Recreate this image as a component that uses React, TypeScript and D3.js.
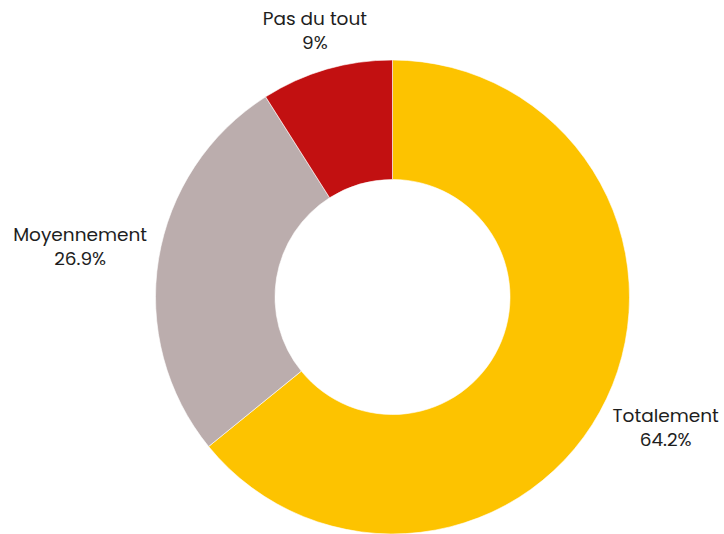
import React, { useEffect, useRef } from "react";
import * as d3 from "d3";

const categories = ["Totalement", "Moyennement", "Pas du tout"];
const values = [64.2, 26.9, 9];
const valueLabels = ["64.2%", "26.9%", "9%"];
const colors = ["#FDC300", "#BBADAD", "#C21011"];

const W = 724;
const H = 534;

export default function App() {
  const ref = useRef<SVGSVGElement>(null);
  useEffect(() => {
    const svg = d3.select(ref.current);
    svg.selectAll("*").remove();
    const cx = 392.5;
    const cy = 297;
    const outerR = 237;
    const innerR = 117.5;
    const data = categories.map((c, i) => ({ name: c, value: values[i], label: valueLabels[i], color: colors[i] }));
    const pie = d3.pie<any>().sort(null).value((d: any) => d.value);
    const arcs = pie(data);
    const arc = d3.arc<any>().innerRadius(innerR).outerRadius(outerR);
    const g = svg.append("g").attr("transform", `translate(${cx},${cy})`);
    g.selectAll("path")
      .data(arcs)
      .join("path")
      .attr("d", arc as any)
      .attr("fill", (d: any) => d.data.color)
      .attr("stroke", "#fff")
      .attr("stroke-width", 0.6);

    const gap = outerR + 10.5;
    arcs.forEach((a: any) => {
      const mid = (a.startAngle + a.endAngle) / 2;
      const s = Math.sin(mid);
      const c = -Math.cos(mid);
      const t = g
        .append("text")
        .attr("text-anchor", "middle")
        .attr("font-family", "Poppins, 'Open Sans', sans-serif")
        .attr("font-size", 18.5)
        .attr("fill", "#1e1e1e");
      t.append("tspan").attr("x", 0).attr("y", 0).text(a.data.name);
      t.append("tspan").attr("x", 0).attr("y", 24).text(a.data.label);
      const bb = (t.node() as SVGTextElement).getBBox();
      const halfW = bb.width / 2;
      const halfH = bb.height / 2 - 8;
      const R = gap + Math.abs(s) * halfW + Math.abs(c) * halfH;
      const centerX = R * s;
      const centerY = R * c;
      const bcx = bb.x + bb.width / 2;
      const bcy = bb.y + bb.height / 2;
      t.attr("transform", `translate(${centerX - bcx},${centerY - bcy})`);
    });
  }, []);
  return (
    <svg ref={ref} width={W} height={H} style={{ display: "block", position: "absolute", left: 0, top: 0 }} />
  );
}
